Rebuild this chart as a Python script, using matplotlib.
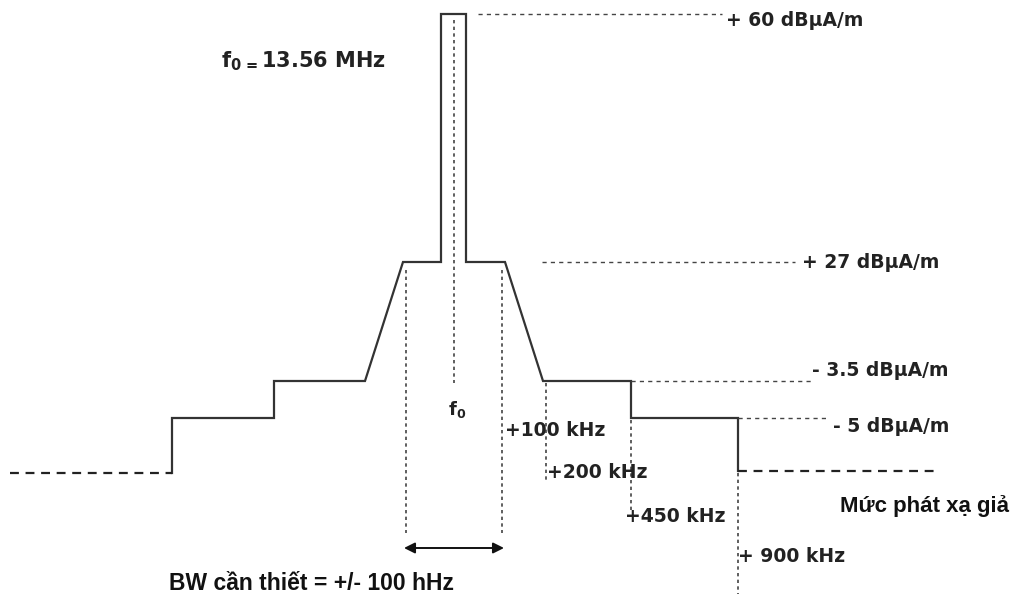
import matplotlib.pyplot as plt

plt.rcParams['font.family'] = ['Liberation Sans', 'DejaVu Sans']
plt.rcParams['mathtext.fontset'] = 'dejavusans'

# mask outline (diagram units: x to the right, level downward)
mask_x = [172, 172, 274, 274, 365, 403, 441, 441, 466, 466, 505, 543, 631, 631, 738, 738]
mask_y = [473, 418, 418, 381, 381, 262, 262, 14, 14, 262, 262, 381, 381, 418, 418, 471]

# spurious emission level (dashed)
spur_left = ([10, 172], [473, 473])
spur_right = ([738, 935], [471, 471])

# level reference lines
levels = [14, 262, 381, 418]
level_x0 = [478, 542, 631, 738]
level_x1 = [722, 795, 812, 826]
level_labels = ['+ 60 dBµA/m', '+ 27 dBµA/m', '- 3.5 dBµA/m', '- 5 dBµA/m']
level_lx = [726, 802, 812, 833]
level_ly = [20, 262, 370, 427]

# frequency markers
freq_x = [454, 406, 502, 546, 631, 738]
freq_top = [20, 270, 270, 383, 420, 473]
freq_bot = [383, 533, 533, 482, 512, 594]
freq_labels = ['+100 kHz', '+200 kHz', '+450 kHz', '+ 900 kHz']
freq_lx = [505, 547, 625, 738]
freq_ly = [430, 473, 517, 556]

wide = ['DejaVu Sans']

fig = plt.figure(figsize=(10.21, 6), dpi=100)
ax = fig.add_axes([0, 0, 1, 1])
ax.set_xlim(0, 1021)
ax.set_ylim(600, 0)
ax.axis('off')

col = '#333333'
ax.plot(mask_x, mask_y, color=col, lw=1.6, solid_joinstyle='miter')
for sx, sy in (spur_left, spur_right):
    ax.plot(sx, sy, color='#222222', lw=1.6, ls=(0, (4, 3)))

for y, x0, x1 in zip(levels, level_x0, level_x1):
    ax.plot([x0, x1], [y, y], color='#444444', lw=1.0, ls=(0, (3, 3)))
for lab, lx, ly in zip(level_labels, level_lx, level_ly):
    ax.text(lx, ly, lab, fontsize=13.5, fontweight='bold', color='#222222',
            family=wide, ha='left', va='center')

for x, t, b in zip(freq_x, freq_top, freq_bot):
    ax.plot([x, x], [t, b], color='#444444', lw=1.2, ls=(0, (2, 2)))
for lab, lx, ly in zip(freq_labels, freq_lx, freq_ly):
    ax.text(lx, ly, lab, fontsize=13.5, fontweight='bold', color='#222222',
            family=wide, ha='left', va='center')

ax.text(448, 410, r'f$_\mathbf{0}$', fontsize=13, fontweight='bold', color='#222222',
        family=wide, ha='left', va='center')
ax.text(221, 61, r'f$_\mathbf{0\,=}$13.56 MHz', fontsize=15, fontweight='bold',
        color='#222222', family=wide, ha='left', va='center')
ax.text(840, 506, 'Mức phát xạ giả', fontsize=16, fontweight='bold', color='#111111',
        ha='left', va='center')
ax.text(169, 584, 'BW cần thiết = +/- 100 hHz', fontsize=16.5, fontweight='bold',
        color='#111111', ha='left', va='center')

ax.annotate('', xy=(404, 548), xytext=(504, 548),
            arrowprops=dict(arrowstyle='<|-|>', color='#111111', lw=1.4,
                            mutation_scale=16, shrinkA=0, shrinkB=0))

fig.savefig('out.png', dpi=100)
